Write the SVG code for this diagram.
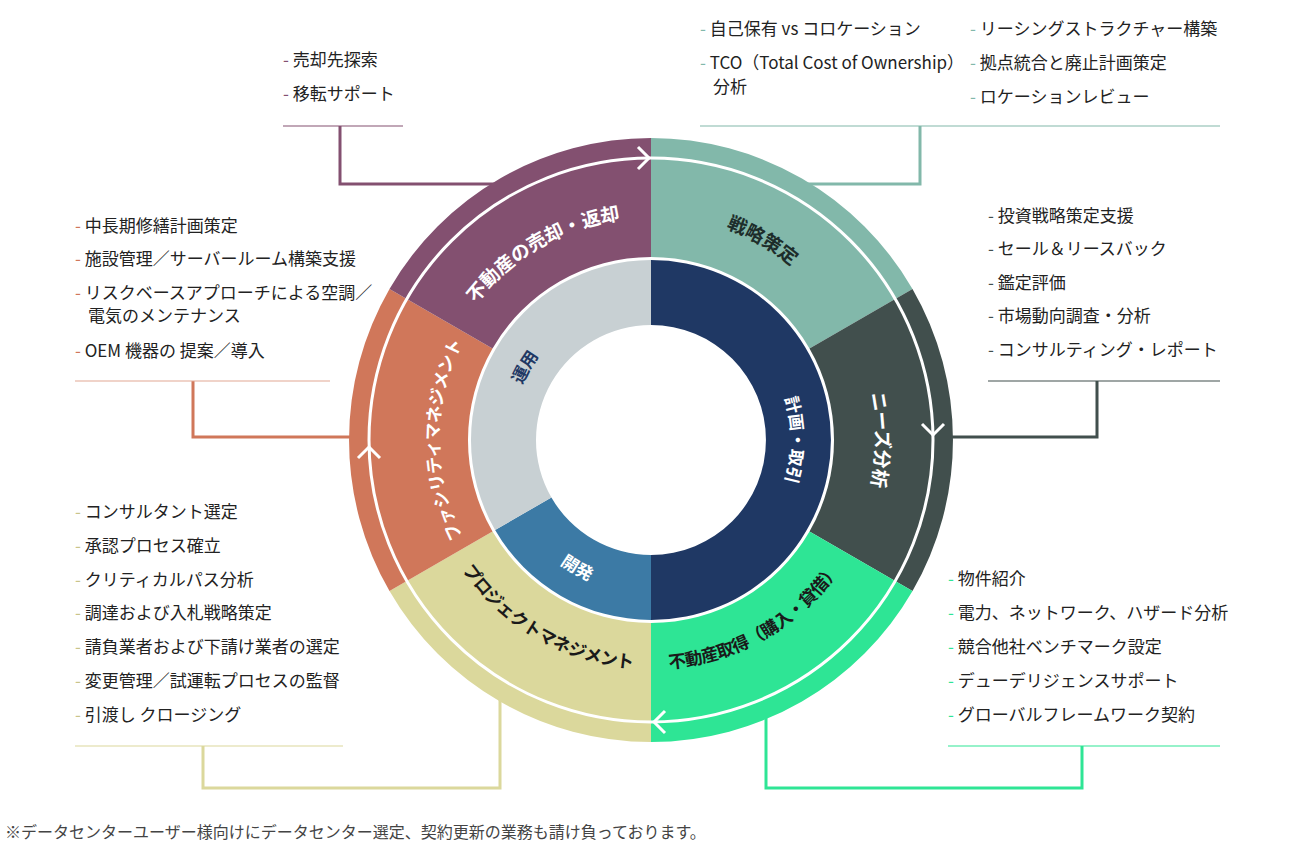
<svg xmlns="http://www.w3.org/2000/svg" width="1300" height="857" viewBox="0 0 1300 857">
<style>
.li{font-family:"Noto Sans CJK JP","Noto Sans",sans-serif;font-size:17px;fill:#222}
.lbl{font-family:"Noto Sans CJK JP","Noto Sans",sans-serif;font-size:19px;font-weight:bold}
.long{font-size:17.5px;letter-spacing:-0.6px}
.ilbl{font-family:"Noto Sans CJK JP","Noto Sans",sans-serif;font-size:17px;font-weight:bold}
.cn{fill:none;stroke-width:3}
.sep{stroke-width:1.2}
</style>
<defs>
<path id="p1" d="M575.1,225.4 A228,228 0 0 1 869.6,395.4"/>
<path id="p6" d="M432.4,401.5 A222,222 0 0 1 726.9,231.4"/>
<path id="p2" d="M795.7,267.5 A226,226 0 0 1 795.7,612.5"/>
<path id="p5" d="M514.7,602.4 A212,212 0 0 1 514.7,277.6"/>
<path id="p4" d="M425.5,479.8 A229,229 0 0 0 729.3,655.2"/>
<path id="p3" d="M572.7,655.2 A229,229 0 0 0 876.5,479.8"/>
<path id="q1" d="M513.1,464.3 A140,140 0 0 1 603.1,308.4"/>
<path id="q2" d="M741,332.8 A140,140 0 0 1 741,547.2"/>
<path id="q3" d="M506.3,492.7 A154,154 0 0 0 677.7,591.7"/>
</defs>
<rect width="1300" height="857" fill="#fff"/>
<g id="connectors">
<path class="cn" stroke="#835070" d="M340,126 V184 H500"/>
<path class="cn" stroke="#82b8aa" d="M920,126 V184 H800"/>
<path class="cn" stroke="#414f4d" d="M1097,381 V437 H930"/>
<path class="cn" stroke="#2ee595" d="M1082,746 V788 H766 V700"/>
<path class="cn" stroke="#dbd89c" d="M500,700 V788 H203 V746"/>
<path class="cn" stroke="#d0775a" d="M193,381 V437 H380"/>
</g>
<g id="s1"><path fill="#82b8aa" d="M651,138 A302,302 0 0 1 912.5,289 L809.5,348.5 A183,183 0 0 0 651,257 Z"/><text class="lbl" fill="#1d2d2a"><textPath href="#p1" startOffset="50%" text-anchor="middle">戦略策定</textPath></text></g>
<g id="s2"><path fill="#414f4d" d="M912.5,289 A302,302 0 0 1 912.5,591 L809.5,531.5 A183,183 0 0 0 809.5,348.5 Z"/><text class="lbl" fill="#fff"><textPath href="#p2" startOffset="50%" text-anchor="middle">ニーズ分析</textPath></text></g>
<g id="s3"><path fill="#2ee595" d="M912.5,591 A302,302 0 0 1 651,742 L651,623 A183,183 0 0 0 809.5,531.5 Z"/><text class="lbl long" fill="#1a1a1a"><textPath href="#p3" startOffset="50%" text-anchor="middle">不動産取得（購入・貸借）</textPath></text></g>
<g id="s4"><path fill="#dbd89c" d="M651,742 A302,302 0 0 1 389.5,591 L492.5,531.5 A183,183 0 0 0 651,623 Z"/><text class="lbl long" fill="#1a1a1a"><textPath href="#p4" startOffset="50%" text-anchor="middle">プロジェクトマネジメント</textPath></text></g>
<g id="s5"><path fill="#d0775a" d="M389.5,591 A302,302 0 0 1 389.5,289 L492.5,348.5 A183,183 0 0 0 492.5,531.5 Z"/><text class="lbl long" fill="#fff"><textPath href="#p5" startOffset="50%" text-anchor="middle">ファシリティマネジメント</textPath></text></g>
<g id="s6"><path fill="#835070" d="M389.5,289 A302,302 0 0 1 651,138 L651,257 A183,183 0 0 0 492.5,348.5 Z"/><text class="lbl" fill="#fff"><textPath href="#p6" startOffset="50%" text-anchor="middle">不動産の売却・返却</textPath></text></g>
<g id="i1"><path fill="#1f3864" d="M651,260 A180,180 0 0 1 651,620 L651,555 A115,115 0 0 0 651,325 Z"/><text class="ilbl" fill="#fff"><textPath href="#q2" startOffset="50%" text-anchor="middle">計画・取引</textPath></text></g>
<g id="i2"><path fill="#3c7aa5" d="M651,620 A180,180 0 0 1 495.1,530 L551.4,497.5 A115,115 0 0 0 651,555 Z"/><text class="ilbl" fill="#fff"><textPath href="#q3" startOffset="50%" text-anchor="middle">開発</textPath></text></g>
<g id="i3"><path fill="#c8d0d3" d="M495.1,530 A180,180 0 0 1 651,260 L651,325 A115,115 0 0 0 551.4,497.5 Z"/><text class="ilbl" fill="#1f3864"><textPath href="#q1" startOffset="50%" text-anchor="middle">運用</textPath></text></g>
<g id="cycle" fill="none" stroke="#fff" stroke-width="3">
<circle cx="651" cy="440" r="282"/>
<polyline points="638,147 649,158 638,169"/>
<polyline points="922,424 933,435 944,424"/>
<polyline points="665,711 654,722 665,733"/>
<polyline points="358,458 369,447 380,458"/>
</g>
<g id="list-sale">
<text class="li" x="283" y="66"><tspan fill="#835070">- </tspan>売却先探索</text>
<text class="li" x="283" y="100"><tspan fill="#835070">- </tspan>移転サポート</text>
<line class="sep" stroke="#835070" x1="283" y1="126" x2="403" y2="126"/>
</g>
<g id="list-strategy">
<text class="li" x="700" y="35"><tspan fill="#82b8aa">- </tspan>自己保有 vs コロケーション</text>
<text class="li" x="700" y="69"><tspan fill="#82b8aa">- </tspan>TCO（Total Cost of Ownership）</text>
<text class="li" x="713" y="93">分析</text>
<text class="li" x="970" y="35"><tspan fill="#82b8aa">- </tspan>リーシングストラクチャー構築</text>
<text class="li" x="970" y="69"><tspan fill="#82b8aa">- </tspan>拠点統合と廃止計画策定</text>
<text class="li" x="970" y="103"><tspan fill="#82b8aa">- </tspan>ロケーションレビュー</text>
<line class="sep" stroke="#82b8aa" x1="700" y1="126" x2="1220" y2="126"/>
</g>
<g id="list-needs">
<text class="li" x="988" y="222"><tspan fill="#414f4d">- </tspan>投資戦略策定支援</text>
<text class="li" x="988" y="255"><tspan fill="#414f4d">- </tspan>セール＆リースバック</text>
<text class="li" x="988" y="289"><tspan fill="#414f4d">- </tspan>鑑定評価</text>
<text class="li" x="988" y="322"><tspan fill="#414f4d">- </tspan>市場動向調査・分析</text>
<text class="li" x="988" y="356"><tspan fill="#414f4d">- </tspan>コンサルティング・レポート</text>
<line class="sep" stroke="#414f4d" x1="988" y1="381" x2="1220" y2="381"/>
</g>
<g id="list-acq">
<text class="li" x="948" y="585"><tspan fill="#2ee595">- </tspan>物件紹介</text>
<text class="li" x="948" y="619"><tspan fill="#2ee595">- </tspan>電力、ネットワーク、ハザード分析</text>
<text class="li" x="948" y="653"><tspan fill="#2ee595">- </tspan>競合他社ベンチマーク設定</text>
<text class="li" x="948" y="687"><tspan fill="#2ee595">- </tspan>デューデリジェンスサポート</text>
<text class="li" x="948" y="721"><tspan fill="#2ee595">- </tspan>グローバルフレームワーク契約</text>
<line class="sep" stroke="#2ee595" x1="948" y1="746" x2="1220" y2="746"/>
</g>
<g id="list-pm">
<text class="li" x="75" y="518"><tspan fill="#c9c48a">- </tspan>コンサルタント選定</text>
<text class="li" x="75" y="552"><tspan fill="#c9c48a">- </tspan>承認プロセス確立</text>
<text class="li" x="75" y="586"><tspan fill="#c9c48a">- </tspan>クリティカルパス分析</text>
<text class="li" x="75" y="619"><tspan fill="#c9c48a">- </tspan>調達および入札戦略策定</text>
<text class="li" x="75" y="653"><tspan fill="#c9c48a">- </tspan>請負業者および下請け業者の選定</text>
<text class="li" x="75" y="687"><tspan fill="#c9c48a">- </tspan>変更管理／試運転プロセスの監督</text>
<text class="li" x="75" y="721"><tspan fill="#c9c48a">- </tspan>引渡し クロージング</text>
<line class="sep" stroke="#dbd89c" x1="75" y1="746" x2="343" y2="746"/>
</g>
<g id="list-fm">
<text class="li" x="75" y="232"><tspan fill="#d0775a">- </tspan>中長期修繕計画策定</text>
<text class="li" x="75" y="265"><tspan fill="#d0775a">- </tspan>施設管理／サーバールーム構築支援</text>
<text class="li" x="75" y="299"><tspan fill="#d0775a">- </tspan>リスクベースアプローチによる空調／</text>
<text class="li" x="88" y="322">電気のメンテナンス</text>
<text class="li" x="75" y="357"><tspan fill="#d0775a">- </tspan>OEM 機器の 提案／導入</text>
<line class="sep" stroke="#e2a893" x1="75" y1="381" x2="330" y2="381"/>
</g>
<text x="5" y="838" font-family="'Noto Sans CJK JP','Noto Sans',sans-serif" font-size="16" fill="#444">※データセンターユーザー様向けにデータセンター選定、契約更新の業務も請け負っております。</text>
</svg>
